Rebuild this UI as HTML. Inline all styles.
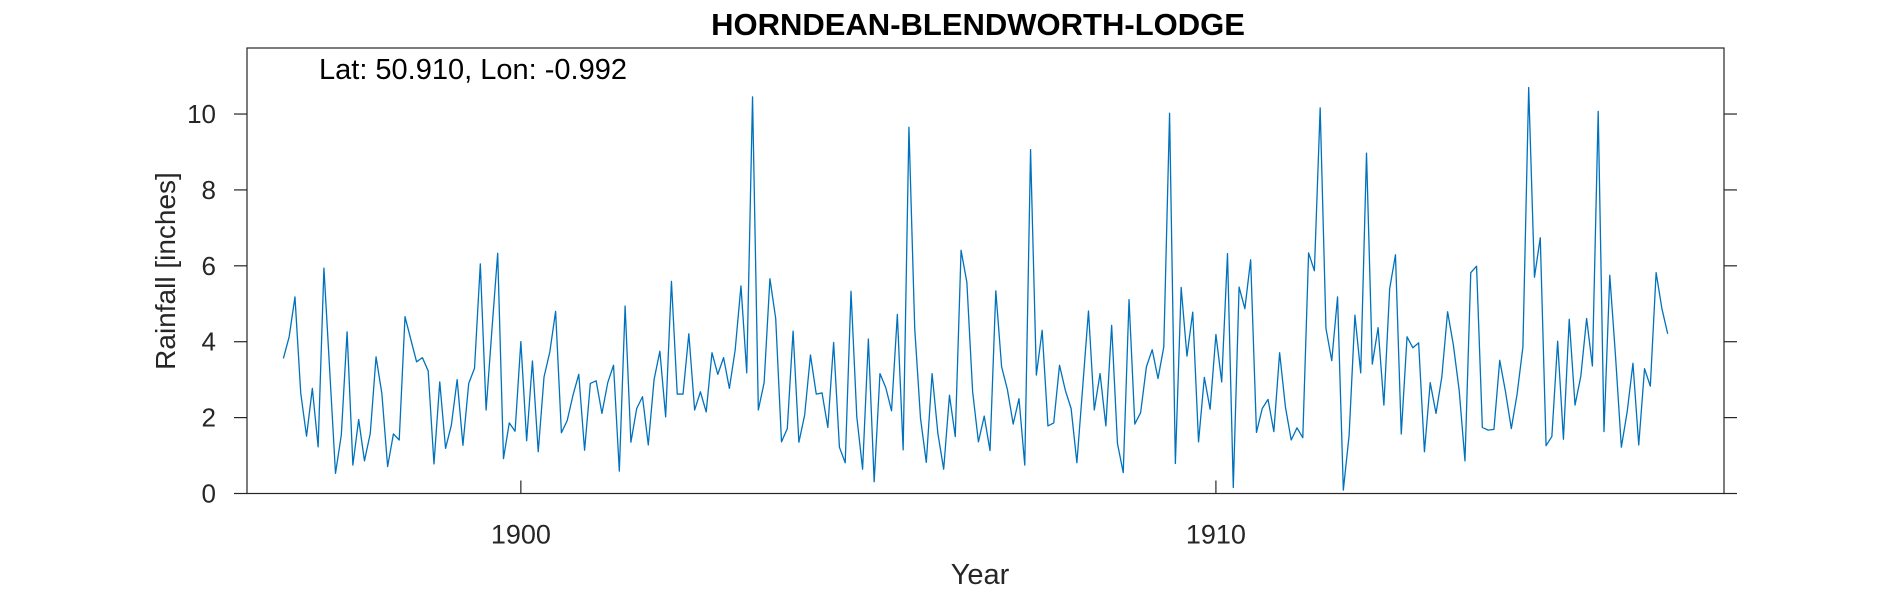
<!DOCTYPE html>
<html><head><meta charset="utf-8"><style>
body{margin:0;background:#fff;}
svg text{font-family:"Liberation Sans",Arial,sans-serif;fill:#262626;}
</style></head><body>
<svg id="chart" width="1890" height="591" xmlns="http://www.w3.org/2000/svg">
<rect width="1890" height="591" fill="#fff"/>
<text x="978" y="35" font-size="31" font-weight="bold" text-anchor="middle" style="fill:#000">HORNDEAN-BLENDWORTH-LODGE</text>
<g id="plot"></g>
<text x="319" y="79" font-size="29" style="fill:#000">Lat: 50.910, Lon: -0.992</text>
<text x="980" y="584" font-size="29" text-anchor="middle">Year</text>
<text x="0" y="0" font-size="28" text-anchor="middle" transform="translate(175,271) rotate(-90)">Rainfall [inches]</text>
</svg>
<script>
const startYear = 1896 + 7/12;
const rainfall = [3.56,4.13,5.18,2.64,1.51,2.77,1.23,5.94,3.24,0.53,1.54,4.26,0.75,1.95,0.86,1.58,3.6,2.64,0.71,1.57,1.41,4.66,4.06,3.47,3.58,3.23,0.78,2.94,1.19,1.8,3.0,1.27,2.9,3.3,6.05,2.2,4.3,6.33,0.92,1.86,
1.64,4.0,1.39,3.49,1.1,3.07,3.73,4.8,1.6,1.92,2.59,3.14,1.14,2.9,2.97,2.11,2.92,3.38,0.59,4.94,1.35,2.24,2.55,1.28,3.0,3.75,2.02,5.59,2.62,2.62,4.21,2.2,2.68,2.15,3.71,3.14,3.58,2.77,3.78,5.47,
3.18,10.45,2.2,2.92,5.66,4.61,1.36,1.71,4.28,1.35,2.07,3.65,2.62,2.65,1.74,3.98,1.22,0.81,5.33,2.02,0.64,4.07,0.31,3.16,2.79,2.18,4.72,1.15,9.65,4.35,1.98,0.82,3.16,1.58,0.64,2.59,1.5,6.41,5.57,2.68,
1.36,2.04,1.13,5.34,3.34,2.74,1.83,2.5,0.75,9.06,3.12,4.3,1.78,1.86,3.38,2.72,2.24,0.81,2.8,4.81,2.2,3.16,1.78,4.43,1.32,0.55,5.11,1.83,2.13,3.34,3.79,3.03,3.86,10.02,0.79,5.43,3.62,4.78,1.36,
3.06,2.22,4.19,2.94,6.32,0.16,5.44,4.87,6.16,1.61,2.24,2.48,1.63,3.71,2.28,1.41,1.73,1.47,6.34,5.87,10.16,4.35,3.5,5.18,0.09,1.54,4.7,3.18,8.97,3.41,4.37,2.33,5.4,6.29,1.57,4.13,3.84,3.97,1.1,2.92,
2.11,3.07,4.79,3.91,2.72,0.86,5.82,5.99,1.74,1.67,1.69,3.51,2.68,1.71,2.62,3.86,10.7,5.7,6.74,1.26,1.5,4.01,1.43,4.59,2.33,3.09,4.61,3.36,10.07,1.63,5.75,3.6,1.22,2.15,3.43,1.28,3.29,2.83,5.82,4.87,4.21];
const yTicks = [0,2,4,6,8,10];
const xTicks = [1900,1910];
const xTickLabels = ["1900","1910"];

const L=247,R=1724,T=48,B=493.5;
const xMin=1896.06,xMax=1917.31,yMin=0,yMax=11.74;
function xs(v){return L+(v-xMin)/(xMax-xMin)*(R-L);}
function ys(v){return B-(v-yMin)/(yMax-yMin)*(B-T);}
const NS="http://www.w3.org/2000/svg";
const g=document.getElementById('plot');
function mk(tag,attrs){const e=document.createElementNS(NS,tag);for(const k in attrs)e.setAttribute(k,attrs[k]);g.appendChild(e);return e;}

const box=mk('rect',{x:L,y:T,width:R-L,height:B-T,fill:'none',stroke:'#262626','stroke-width':1.2});



yTicks.forEach(v=>{
  const y=ys(v);
  const t1=mk('line',{x1:L-13,x2:L,y1:y,y2:y,stroke:'#262626','stroke-width':1.2});
  
  
  const t2=mk('line',{x1:R,x2:R+13,y1:y,y2:y,stroke:'#262626','stroke-width':1.2});
  
  
  const lb=mk('text',{x:L-31,y:y+9,'font-size':26,'text-anchor':'end'});
  lb.textContent=String(v);
  
  
});
xTicks.forEach((v,i)=>{
  const x=xs(v);
  const t1=mk('line',{x1:x,x2:x,y1:B-13,y2:B,stroke:'#262626','stroke-width':1.2});
  
  
  const lb=mk('text',{x:x,y:B+50,'font-size':27,'text-anchor':'middle'});
  lb.textContent=xTickLabels[i];
  
  
});
const pts=rainfall.map((v,i)=>xs(startYear+i/12).toFixed(2)+','+ys(v).toFixed(2)).join(' ');
const line=mk('polyline',{points:pts,fill:'none',stroke:'#0072BD','stroke-width':1.3,'stroke-linejoin':'round'});


</script>
</body></html>
